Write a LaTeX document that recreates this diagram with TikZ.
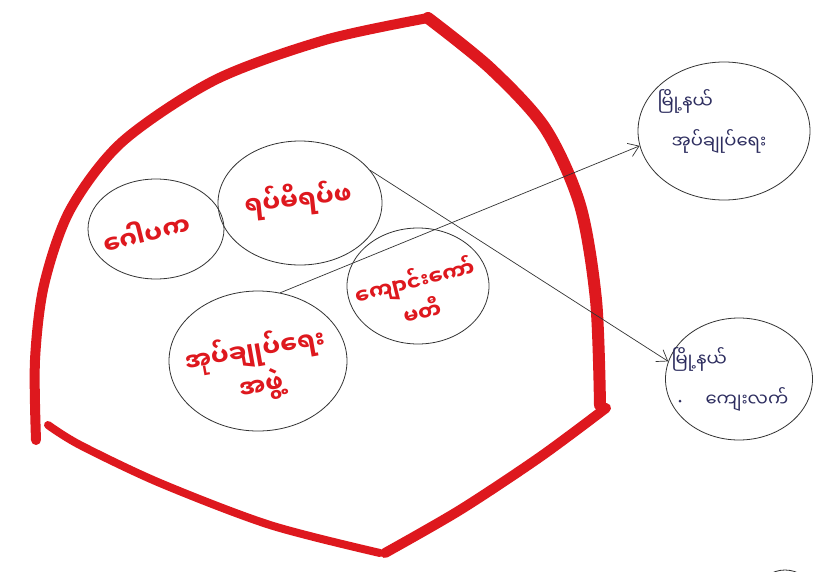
\documentclass[tikz,border=0pt]{standalone}
\usepackage{fontspec}
\newfontfamily\myan[Script=Myanmar]{Noto Sans Myanmar UI}
\usetikzlibrary{shapes.geometric,arrows.meta}
\definecolor{redink}{RGB}{222,24,30}
\definecolor{blueink}{RGB}{45,45,95}
\tikzset{
  redline/.style={draw=redink,line width=10pt,line cap=round,line join=round},
  bubble/.style={ellipse,draw=black!80,line width=0.8pt,inner sep=0pt},
  redtext/.style={text=redink,font=\myan\fontsize{25}{36}\selectfont\bfseries,align=center},
  bluetext/.style={text=blueink,font=\myan\fontsize{18}{40}\selectfont,align=left},
  conn/.style={draw=black!80,line width=0.7pt,-{Straight Barb[length=10pt,width=14pt]}}
}
\begin{document}
\begin{tikzpicture}[x=1pt,y=-1pt]
\useasboundingbox (0,0) rectangle (817,571);
\fill[white] (0,0) rectangle (817,571);
% big red boundary
\draw[redline] plot[smooth] coordinates {(36,440) (35,360) (44,285) (70,210) (122,142) (215,80) (325,40) (428,18)};
\draw[redline,line width=12pt] plot[smooth] coordinates {(428,18) (490,68) (545,128) (580,205) (596,300) (600,405)};
\draw[redline] plot[smooth] coordinates {(606,408) (540,457) (460,510) (385,553)};
\draw[redline,line width=8pt] plot[smooth] coordinates {(380,553) (270,525) (160,483) (80,445) (48,425)};
% bubbles
\node[bubble,minimum width=136pt,minimum height=100pt] (b1) at (156,229) {};
\node[bubble,minimum width=164pt,minimum height=124pt] (b2) at (300,203) {};
\node[bubble,minimum width=142pt,minimum height=116pt] (b3) at (418,286) {};
\node[bubble,minimum width=178pt,minimum height=140pt] (b4) at (258,361) {};
\node[bubble,minimum width=172pt,minimum height=138pt] (r1) at (724,131) {};
\node[bubble,minimum width=147pt,minimum height=122pt] (r2) at (739,379) {};
\node[bubble,minimum width=50pt,minimum height=40pt] (r3) at (785,590) {};
% labels
\node[redtext,rotate=14] (t1) at (146,232) {ဂေါပက};
\node[redtext,rotate=6] (t2) at (298,200) {ရပ်မိရပ်ဖ};
\node[redtext,rotate=14,font=\myan\fontsize{21}{32}\selectfont\bfseries] (t3) at (418,295) {ကျောင်းကော်\\မတီ};
\node[redtext,rotate=10] (t4) at (258,368) {အုပ်ချုပ်ရေး\\အဖွဲ့};
\node[bluetext,anchor=north west] (u1) at (654,86) {မြို့နယ်\\\hspace{14pt}အုပ်ချုပ်ရေး};
\node[bluetext,anchor=north west] (u2) at (668,344) {မြို့နယ်\\\hspace{34pt}ကျေးလက်};
\fill[blueink] (680,401) circle (1.5pt);
% connectors
\draw[conn] (b2.25) -- (r2.166);
\draw[conn] (b4.72) -- (r1.190);
\end{tikzpicture}
\end{document}
